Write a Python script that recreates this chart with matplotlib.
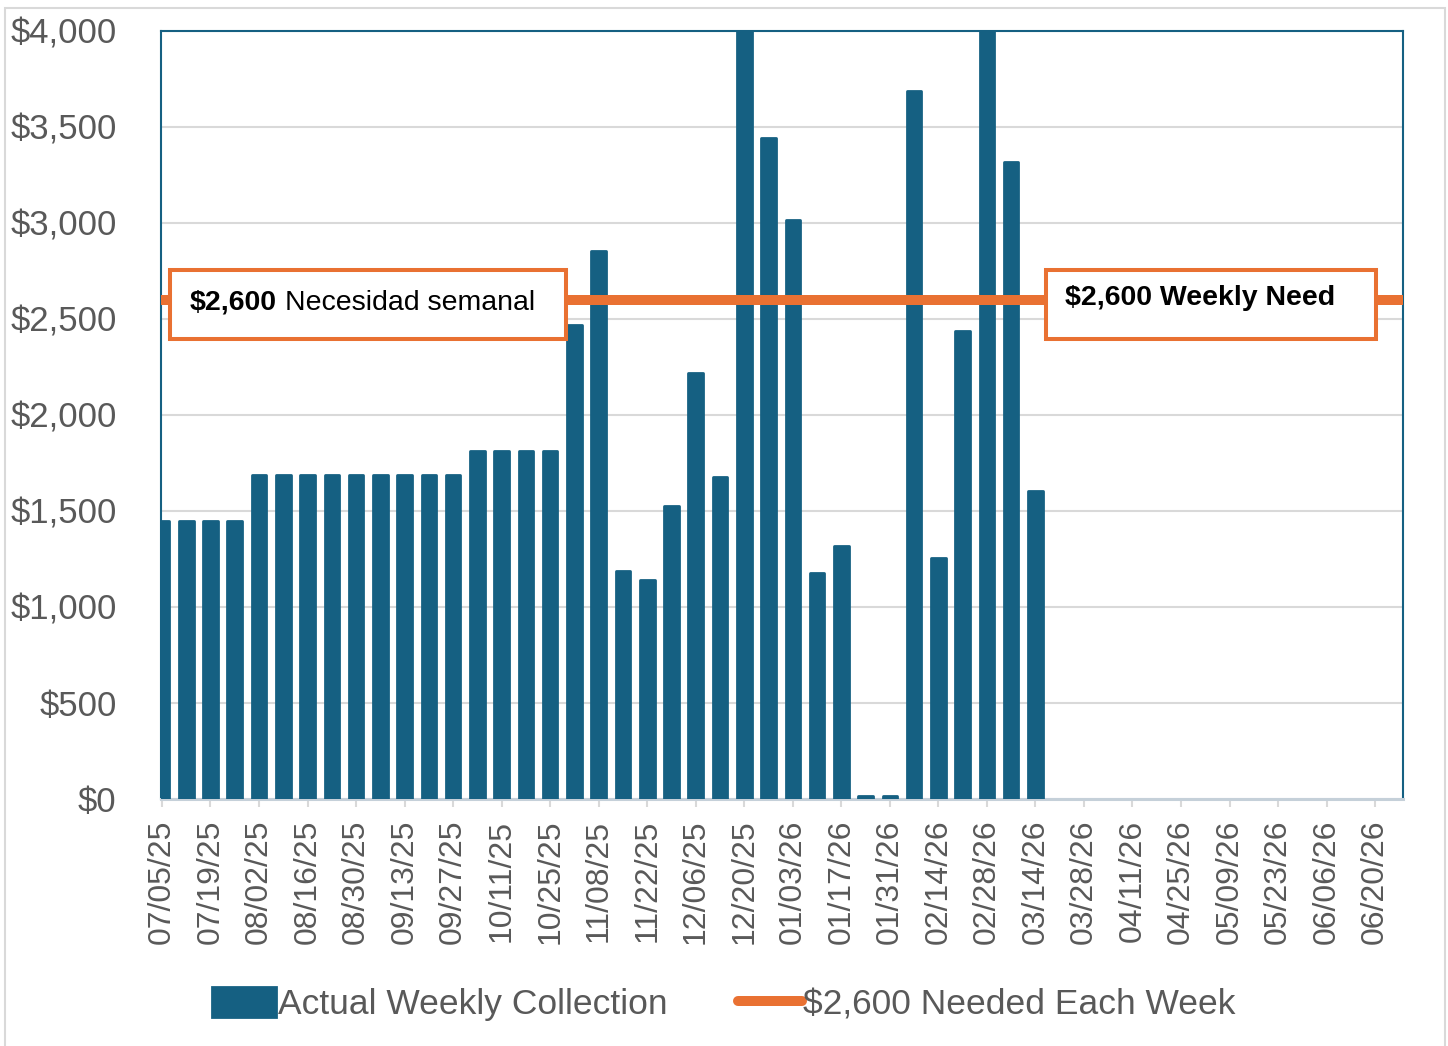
import numpy as np
import pandas as pd
import matplotlib.pyplot as plt
from matplotlib.patches import Rectangle
from matplotlib.lines import Line2D
from matplotlib.offsetbox import TextArea, HPacker, AnnotationBbox

# weekly categories, 07/05/25 .. 06/27/26
weeks = pd.date_range('2025-07-05', periods=52, freq='7D')

# actual collections (blank after 03/14/26)
collected = [1450, 1450, 1450, 1450,
             1690, 1690, 1690, 1690, 1690, 1690, 1690, 1690, 1690,
             1815, 1815, 1815, 1815,
             2470, 2855, 1185, 1140, 1525, 2220, 1675, 4250, 3445, 3015,
             1175, 1320, 15, 15, 3685, 1255, 2435, 4200, 3320, 1605]
collected = collected + [np.nan] * (len(weeks) - len(collected))
need = [2600] * len(weeks)

y_ticks = [0, 500, 1000, 1500, 2000, 2500, 3000, 3500, 4000]

BLUE = '#156082'
ORANGE = '#E97132'
GREY = '#595959'
plt.rcParams['font.family'] = ['Liberation Sans', 'DejaVu Sans']

W, H = 1448, 1046
fig = plt.figure(figsize=(W / 100, H / 100), dpi=100)
ax = fig.add_axes([161 / W, 1 - 799 / H, (1403 - 161) / W, (799 - 31) / H])

x = np.arange(len(weeks))
bars = ax.bar(x, collected, width=0.6, color=BLUE, edgecolor=BLUE, linewidth=2,
              joinstyle='round', zorder=3, label='Actual Weekly Collection')
ax.plot(x, need, color=ORANGE, lw=7.2, solid_capstyle='projecting', zorder=4)

ax.set_xlim(-0.04, 51.15)
ax.set_ylim(0, 4000)
ax.set_yticks(y_ticks)
ax.set_yticklabels(['$' + format(v, ',') for v in y_ticks], fontsize=25, color=GREY)
ax.set_xticks(x[::2])
ax.set_xticklabels([d.strftime('%m/%d/%y') for d in weeks[::2]], rotation=90,
                   fontsize=23, color=GREY)
ax.tick_params(axis='y', length=0, pad=32)
ax.tick_params(axis='x', direction='out', length=6, width=1.5, color='#d9d9d9', pad=9)
ax.grid(axis='y', color='#d9d9d9', lw=1.5, zorder=0)

for s in ['left', 'top', 'right']:
    ax.spines[s].set_color(BLUE)
    ax.spines[s].set_linewidth(1.5)
ax.spines['bottom'].set_color('#c5d0d9')
ax.spines['bottom'].set_linewidth(2.2)

# callout boxes
boxes = [(0.0072, 0.326), (0.7126, 0.978)]
for x0, x1 in boxes:
    ax.add_patch(Rectangle((x0, 0.599), x1 - x0, 0.09, transform=ax.transAxes,
                           fc='white', ec=ORANGE, lw=2.9, zorder=6, clip_on=False))

left = HPacker(children=[TextArea('$2,600', textprops=dict(fontsize=20.5, fontweight='bold')),
                         TextArea('Necesidad semanal', textprops=dict(fontsize=20.5))],
               align='baseline', pad=0, sep=6)
ab = AnnotationBbox(left, (0.0233, 0.646), xycoords=ax.transAxes, box_alignment=(0, 0.5),
                    frameon=False, zorder=7)
ax.add_artist(ab)
ax.text(0.728, 0.652, '$2,600 Weekly Need', transform=ax.transAxes, fontsize=20.5,
        fontweight='bold', va='center', ha='left', zorder=7)

need_handle = Line2D([], [], color=ORANGE, lw=7.2, solid_capstyle='round',
                     label='$2,600 Needed Each Week')
fig.legend(handles=[bars, need_handle], loc='center', bbox_to_anchor=(0.5, 1 - 1004 / H),
           ncol=2, frameon=False, fontsize=25.5, labelcolor=GREY,
           handlelength=1.8, handleheight=0.93, handletextpad=0.05, columnspacing=2.0)

# light frame around the chart area
fig.patches.append(Rectangle((5 / W, -0.02), 1440 / W, (H - 8) / H + 0.02,
                             transform=fig.transFigure, fill=False, ec='#d9d9d9', lw=1.5))

fig.savefig('out.png', dpi=100)
